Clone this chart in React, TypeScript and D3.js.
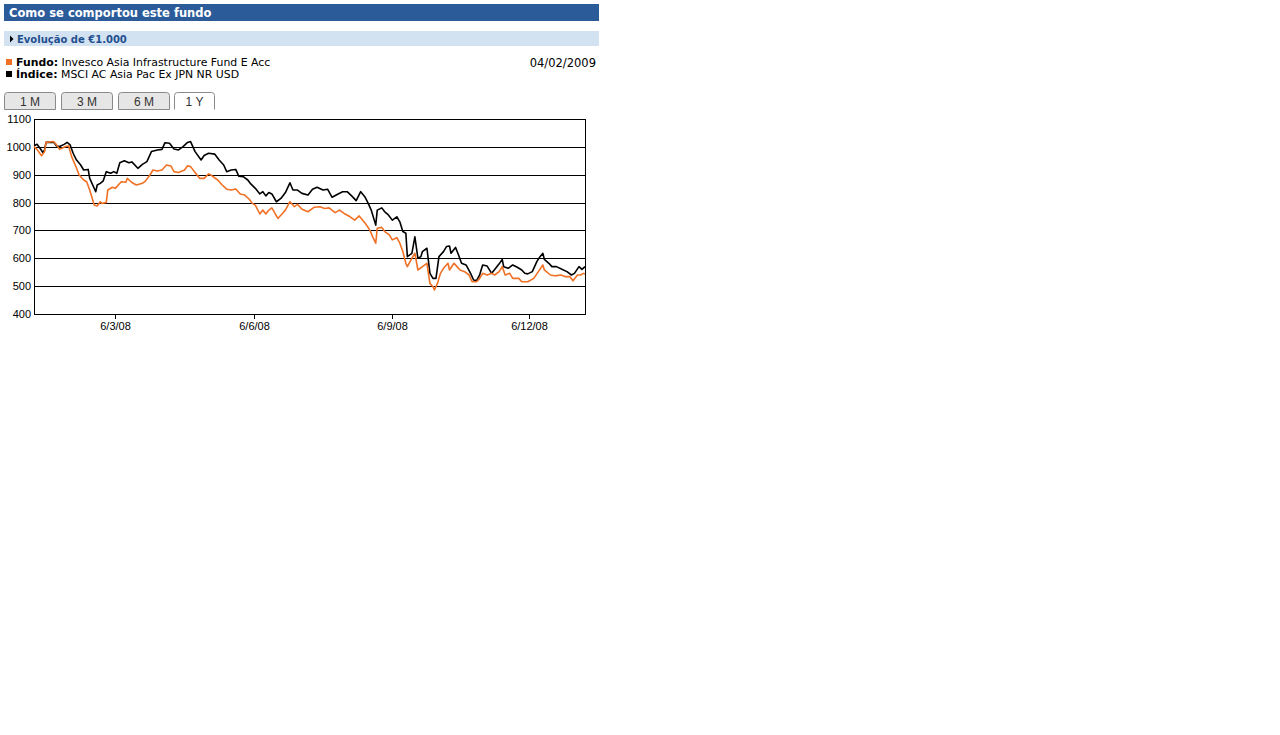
import React from "react";
import * as d3 from "d3";

// ---- data (days since start date, value of €1.000) ----
const startDate = new Date(2008, 0, 12);
const endDate = new Date(2009, 0, 12);

const indexDays = [0,2,4,6,7,8,13,15,17,20,22,24,26,28,31,33,36,37,38,41,42,44,46,48,51,53,55,57,60,63,65,69,72,75,78,82,85,87,90,93,96,99,102,104,107,111,113,116,120,123,126,128,131,134,136,139,142,144,147,150,152,154,156,158,161,164,167,170,172,175,178,182,185,188,192,195,198,202,205,208,211,214,217,220,222,224,227,228,231,233,235,238,241,243,245,247,248,251,253,255,257,258,261,263,265,267,269,272,274,276,277,280,282,284,287,290,292,294,296,298,301,304,306,309,311,312,315,318,321,324,326,328,331,334,336,338,339,342,344,347,351,354,357,359,362,364,366];
const indexValues = [1004,1009,995,979,989,1016,1017,1003,1001,1009,1016,1007,977,955,935,917,919,887,875,839,863,869,878,911,905,911,905,943,950,943,946,923,937,947,983,989,991,1015,1013,992,989,1001,1016,1019,983,953,969,977,974,953,935,911,917,919,895,893,881,867,851,831,839,824,836,831,803,815,836,871,845,845,833,827,848,855,845,848,819,831,839,839,824,807,839,819,797,773,719,773,781,767,758,737,749,731,696,690,606,618,677,600,606,624,636,546,528,528,606,624,642,644,618,639,612,582,576,546,522,520,540,576,572,546,560,580,596,570,564,576,568,558,546,544,552,588,605,618,596,582,570,570,560,552,540,546,570,560,570];

const fundDays = [0,2,5,7,8,13,15,17,21,23,25,28,30,33,35,37,40,42,44,45,48,49,52,54,56,58,61,62,65,68,72,74,77,79,82,85,88,91,93,96,100,102,104,107,110,113,116,118,122,125,128,131,134,137,140,143,145,147,150,152,154,156,158,162,165,167,170,173,175,178,182,186,190,193,196,200,203,206,210,213,216,220,223,225,227,228,231,233,236,238,241,243,245,247,248,251,253,255,258,261,263,265,266,268,270,272,275,276,279,281,283,286,289,291,294,296,298,301,304,306,309,311,313,316,318,322,324,328,332,335,338,339,343,346,350,353,356,358,361,363,365,366];
const fundValues = [1001,991,968,983,1016,1019,1007,991,1001,1003,965,927,899,881,875,845,791,788,803,797,800,845,855,851,863,875,873,887,872,863,869,877,899,917,913,917,935,931,911,908,917,932,929,908,887,887,903,897,881,863,848,845,849,831,827,812,797,791,759,773,759,773,781,743,761,773,803,785,794,776,767,783,785,779,781,764,773,761,749,737,752,726,702,677,654,708,711,696,684,666,674,654,624,582,570,600,618,558,570,582,510,498,486,510,546,564,582,558,582,570,558,552,540,516,516,528,546,540,546,540,552,570,540,546,528,528,516,516,528,552,576,558,540,537,540,534,534,519,540,540,546,543];

const yTicks = [400, 500, 600, 700, 800, 900, 1000, 1100];
const xTickDates = [new Date(2008, 2, 6), new Date(2008, 5, 6), new Date(2008, 8, 6), new Date(2008, 11, 6)];
const xTickLabels = ["6/3/08", "6/6/08", "6/9/08", "6/12/08"];
const tabs = ["1 M", "3 M", "6 M", "1 Y"];
const activeTab = "1 Y";

const dayToDate = (d: number) => d3.timeDay.offset(startDate, d);

export default function App() {
  const plot = { left: 34, right: 585, top: 119, bottom: 314 };
  const x = d3.scaleTime().domain([startDate, endDate]).range([plot.left, plot.right]);
  const y = d3.scaleLinear().domain([400, 1100]).range([plot.bottom, plot.top]);

  const line = d3
    .line<[number, number]>()
    .x((p) => x(dayToDate(p[0])))
    .y((p) => y(p[1]));

  const fundPts = fundDays.map((d, i) => [d, fundValues[i]] as [number, number]);
  const indexPts = indexDays.map((d, i) => [d, indexValues[i]] as [number, number]);

  const verdana = "Verdana, 'DejaVu Sans', sans-serif";
  const arial = "Arial, 'Liberation Sans', sans-serif";

  const tabX = [4, 61, 118, 174];
  const tabW = [51, 51, 51, 40];

  return (
    <svg
      width={1280}
      height={735}
      style={{ position: "absolute", left: 0, top: 0, background: "#fff" }}
    >
      {/* Header */}
      <rect x={4} y={4} width={595} height={17} fill="#2c5b9a" />
      <text x={9} y={17} fill="#fff" fontFamily={verdana} fontWeight="bold" fontSize={11.5}>
        Como se comportou este fundo
      </text>

      {/* Subheader */}
      <rect x={4} y={31} width={595} height={15} fill="#d3e2f1" />
      <path d="M10,35.5 L13.5,39 L10,42.5 Z" fill="#000" />
      <text x={17} y={42.5} fill="#1f4f8f" fontFamily={verdana} fontWeight="bold" fontSize={10}>
        Evolução de €1.000
      </text>

      {/* Legend */}
      <rect x={6} y={59} width={6} height={6} fill="#f07024" />
      <text x={16} y={66} fontFamily={verdana} fontSize={10.9} fill="#000">
        <tspan fontWeight="bold">Fundo:</tspan> Invesco Asia Infrastructure Fund E Acc
      </text>
      <rect x={6} y={71} width={6} height={6} fill="#000" />
      <text x={16} y={78} fontFamily={verdana} fontSize={10.9} fill="#000">
        <tspan fontWeight="bold">Índice:</tspan> MSCI AC Asia Pac Ex JPN NR USD
      </text>
      <text x={596} y={67} textAnchor="end" fontFamily={verdana} fontSize={11.5} fill="#000">
        04/02/2009
      </text>

      {/* Tabs */}
      {tabs.map((t, i) => {
        const active = t === activeTab;
        const x0 = tabX[i] + 0.5;
        const w = tabW[i];
        const top = 92.5;
        const bot = 109.5;
        const r = 3;
        const d = `M${x0},${bot} L${x0},${top + r} Q${x0},${top} ${x0 + r},${top} L${x0 + w - r},${top} Q${x0 + w},${top} ${x0 + w},${top + r} L${x0 + w},${bot}`;
        return (
          <g key={t}>
            <path d={d + (active ? "" : " Z")} fill={active ? "#fff" : "#e6e6e6"} stroke="#8a8a8a" strokeWidth={1} />
            <text
              x={tabX[i] + w / 2 + 0.5}
              y={106}
              textAnchor="middle"
              fontFamily={arial}
              fontSize={12}
              fill="#333"
            >
              {t}
            </text>
          </g>
        );
      })}

      {/* Grid */}
      {yTicks.map((v) => (
        <g key={v}>
          <line
            x1={plot.left}
            x2={plot.right}
            y1={Math.round(y(v)) + 0.5}
            y2={Math.round(y(v)) + 0.5}
            stroke="#000"
            strokeWidth={1}
          />
          <text
            x={plot.left - 3}
            y={Math.round(y(v)) + 4}
            textAnchor="end"
            fontFamily={arial}
            fontSize={11}
            fill="#000"
          >
            {v}
          </text>
        </g>
      ))}
      <line x1={plot.left + 0.5} x2={plot.left + 0.5} y1={plot.top} y2={plot.bottom + 1} stroke="#000" />
      <line x1={plot.right + 0.5} x2={plot.right + 0.5} y1={plot.top} y2={plot.bottom + 1} stroke="#000" />

      {/* X ticks */}
      {xTickDates.map((dt, i) => {
        const xp = Math.round(x(dt)) + 0.5;
        return (
          <g key={xTickLabels[i]}>
            <line x1={xp} x2={xp} y1={plot.bottom} y2={plot.bottom + 5} stroke="#000" />
            <text x={xp} y={plot.bottom + 16} textAnchor="middle" fontFamily={arial} fontSize={11} fill="#000">
              {xTickLabels[i]}
            </text>
          </g>
        );
      })}

      {/* Series */}
      <path d={line(indexPts) || ""} fill="none" stroke="#000" strokeWidth={1.6} strokeLinejoin="round" />
      <path d={line(fundPts) || ""} fill="none" stroke="#f07024" strokeWidth={1.6} strokeLinejoin="round" />
    </svg>
  );
}
